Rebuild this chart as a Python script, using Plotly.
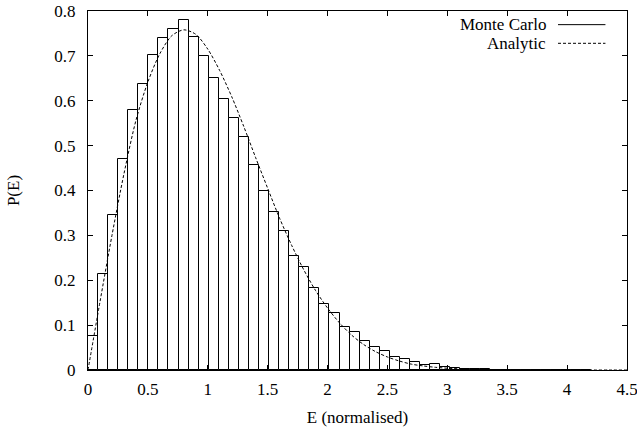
import numpy as np
import plotly.graph_objects as go

# Monte Carlo histogram: normalised probability per energy bin
BIN_WIDTH = 0.084
mc_density = [
    0.076, 0.215, 0.345, 0.470, 0.580, 0.637, 0.702, 0.739, 0.759, 0.779,
    0.743, 0.699, 0.651, 0.605, 0.561, 0.519, 0.456, 0.399, 0.352, 0.310,
    0.253, 0.229, 0.182, 0.148, 0.128, 0.096, 0.085, 0.064, 0.052, 0.042,
    0.030, 0.025, 0.018, 0.012, 0.013, 0.006, 0.004, 0.003, 0.002, 0.0015,
    0.001, 0.001, 0.0005, 0.0005, 0.0003, 0.0002, 0.0, 0.0002, 0.0, 0.0001,
]

# Analytic distribution sampled along E
analytic_e = [0.0, 0.1, 0.2, 0.3, 0.4, 0.5, 0.6, 0.7, 0.8, 0.9,
              1.0, 1.1, 1.2, 1.3, 1.4, 1.5, 1.6, 1.7, 1.8, 1.9,
              2.0, 2.1, 2.2, 2.3, 2.4, 2.5, 2.6, 2.7, 2.8, 2.9,
              3.0, 3.2, 3.5, 4.0, 4.5]
analytic_p = [0.0, 0.152, 0.300, 0.437, 0.556, 0.642, 0.705, 0.745, 0.758, 0.748,
              0.715, 0.667, 0.609, 0.543, 0.473, 0.405, 0.338, 0.278, 0.224, 0.177,
              0.138, 0.105, 0.078, 0.057, 0.041, 0.029, 0.020, 0.013, 0.009, 0.006,
              0.004, 0.0015, 0.0003, 0.0, 0.0]

x_ticks = [0, 0.5, 1, 1.5, 2, 2.5, 3, 3.5, 4, 4.5]
y_ticks = [0, 0.1, 0.2, 0.3, 0.4, 0.5, 0.6, 0.7, 0.8]

FONT = "Liberation Serif, Times New Roman, serif"
FSIZE = 17
centres = (np.arange(len(mc_density)) + 0.5) * BIN_WIDTH

fig = go.Figure()
fig.add_trace(go.Bar(
    x=centres, y=mc_density, width=BIN_WIDTH,
    marker=dict(color="white", line=dict(color="black", width=1)),
    name="Monte Carlo", showlegend=False,
))
fig.add_trace(go.Scatter(
    x=analytic_e, y=analytic_p, mode="lines",
    line=dict(color="black", width=1, dash="3px,2px", shape="spline", smoothing=0.8),
    name="Analytic", showlegend=False,
))

# key in the top-right corner: label first, line sample after it
key = [("Monte Carlo", 0.962, "solid"), ("Analytic", 0.910, "3px,2px")]
for label, ky, dash in key:
    fig.add_annotation(xref="paper", yref="paper", x=0.853, y=ky, text=label,
                       showarrow=False, xanchor="right", yanchor="middle",
                       font=dict(family=FONT, size=FSIZE, color="black"))
    fig.add_shape(type="line", xref="paper", yref="paper",
                  x0=0.872, x1=0.960, y0=ky, y1=ky,
                  line=dict(color="black", width=1, dash=dash))

axis_common = dict(
    showline=True, linecolor="black", linewidth=1, mirror="allticks",
    ticks="inside", ticklen=5, tickcolor="black", showgrid=False, zeroline=False,
    tickfont=dict(family=FONT, size=FSIZE, color="black"),
    ticklabeloverflow="allow",
)
fig.update_xaxes(range=[0, 4.5], tickvals=x_ticks, ticktext=[f"{v:g}" for v in x_ticks],
                 ticklabelstandoff=4,
                 title=dict(text="E (normalised)", standoff=12,
                            font=dict(family=FONT, size=FSIZE, color="black")),
                 **axis_common)
fig.update_yaxes(range=[0, 0.8], tickvals=y_ticks, ticktext=[f"{v:g}" for v in y_ticks],
                 ticklabelstandoff=8,
                 title=dict(text="P(E)", standoff=30,
                            font=dict(family=FONT, size=FSIZE, color="black")),
                 **axis_common)

fig.update_layout(
    width=637, height=430,
    font=dict(family=FONT, size=FSIZE, color="black"),
    margin=dict(l=88, r=10, t=11, b=60, autoexpand=False),
    paper_bgcolor="white", plot_bgcolor="white",
    bargap=0, showlegend=False,
)
fig.write_html("out.html")
